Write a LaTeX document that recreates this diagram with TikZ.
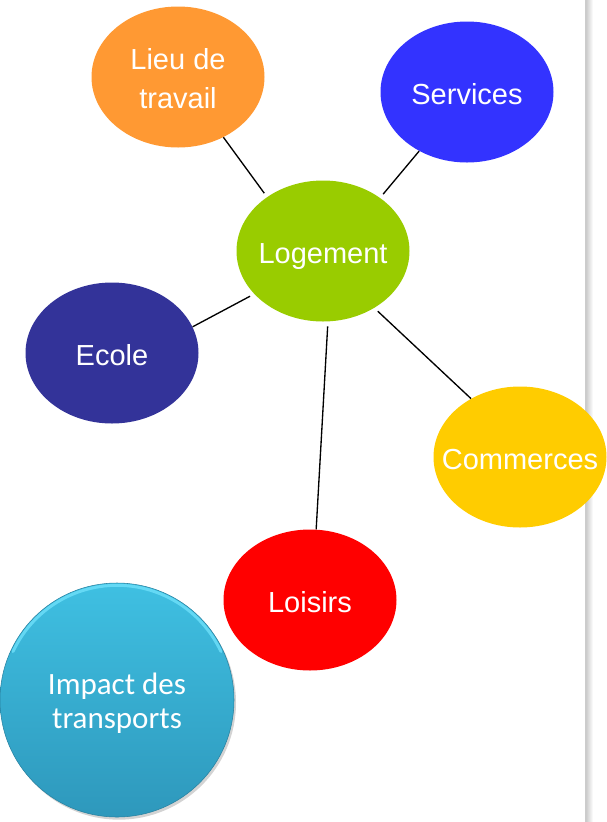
\documentclass[tikz,border=0pt]{standalone}
\usepackage{fontspec}
\setmainfont{Liberation Sans}
\newfontfamily\calibri{Carlito}
\usetikzlibrary{shapes.geometric,shadows}

\definecolor{lieucol}{RGB}{255,153,51}
\definecolor{servcol}{RGB}{51,51,255}
\definecolor{logcol}{RGB}{153,204,0}
\definecolor{ecolecol}{RGB}{51,51,153}
\definecolor{commcol}{RGB}{255,204,0}
\definecolor{loiscol}{RGB}{255,0,0}
\definecolor{imptop}{RGB}{63,192,226}
\definecolor{impbot}{RGB}{46,152,188}
\definecolor{imprim}{RGB}{110,224,250}

% label that does not widen the bubble
\newcommand{\etiq}[1]{\makebox[0pt]{#1}}

\tikzset{
  bulle/.style={ellipse,inner sep=0pt,minimum width=129.75pt,minimum height=105.75pt,
    text=white,align=center,text height=47pt,font=\fontsize{21.75}{28.7}\selectfont},
  seule/.style={text height=19.6pt,text depth=1.3pt},
  lien/.style={line width=1pt,shorten <=3.5pt}
}

\begin{document}
\begin{tikzpicture}[x=0.75pt,y=-0.75pt]
 \useasboundingbox (0,0) rectangle (607,822);

    % Draw side rule
    \shade[left color=gray!35, right color=white] (587,0) rectangle (593,822);
    \draw[gray!40,line width=1.8pt] (586,0) -- (586,822);

    % Draw the bubbles
    \node[bulle,fill=lieucol] (lieu) at (178,77) {Lieu de\\travail};
    \node[bulle,seule,fill=servcol] (serv) at (467,92) {\etiq{Services}};
    \node[bulle,seule,fill=logcol] (log) at (323,251) {\etiq{Logement}};
    \node[bulle,seule,fill=ecolecol] (ecole) at (112,353) {\etiq{Ecole}};
    \node[bulle,seule,fill=commcol] (comm) at (520,457) {\etiq{Commerces}};
    \node[bulle,seule,fill=loiscol] (lois) at (310,600) {\etiq{Loisirs}};

    % Draw links to Logement
    \draw[lien] (log.136) -- (lieu.-53);
    \draw[lien] (log.43) -- (serv.-129);
    \draw[lien] (log.212) -- (ecole.18);
    \draw[lien] (log.-48) -- (comm.130);
    \draw[lien] (log.-86) -- (lois.85);

    % Draw the big button
    \node[circle,minimum size=175.5pt,inner sep=0pt,draw=impbot!85!black,line width=0.4pt,
      top color=imptop,bottom color=impbot,
      drop shadow={shadow xshift=1.5pt,shadow yshift=-2pt,opacity=0.35},
      text=white,align=center,text height=46pt,font=\calibri\fontsize{23.25}{25}\selectfont]
      (impact) at (117,700) {Impact des\\transports};
    \draw[imprim,line width=2.2pt,opacity=0.8,line cap=round]
      (impact.center) ++(155:86pt) arc[start angle=155,end angle=25,radius=86pt];

\end{tikzpicture}
\end{document}
